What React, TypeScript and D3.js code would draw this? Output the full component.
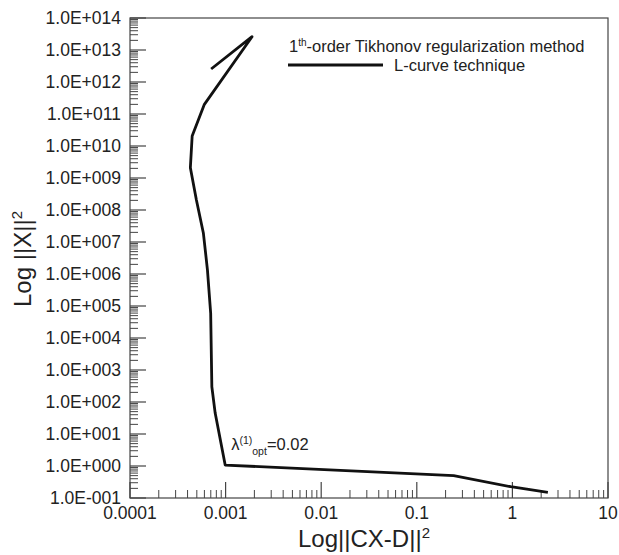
import React from "react";
import * as d3 from "d3";

// L-curve: residual norm ||CX-D||^2 vs. solution norm ||X||^2
const residualNorm = [7.06e-4, 1.89e-3, 6.0e-4, 4.47e-4, 4.28e-4, 4.95e-4, 5.86e-4, 6.46e-4, 6.98e-4, 7.18e-4, 7.78e-4, 9.9e-4, 0.243, 0.96, 2.35];
const solutionNorm = [2.55e12, 2.6e13, 2.0e11, 2.05e10, 2.1e9, 2.05e8, 1.87e7, 1.33e6, 6.0e4, 3.0e2, 45, 1.07, 0.5, 0.225, 0.151];

const xTickValues = [1e-4, 1e-3, 1e-2, 1e-1, 1, 10];
const xTickLabels = ["0.0001", "0.001", "0.01", "0.1", "1", "10"];
const yExponents = [-1, 0, 1, 2, 3, 4, 5, 6, 7, 8, 9, 10, 11, 12, 13, 14];

// optimum regularization point
const optResidual = 9.9e-4;
const optSolution = 1.07;
const optLambda = "0.02";

const W = 619;
const H = 555;
const left = 130;
const right = 608;
const top = 18;
const bottom = 498;

const font = "Liberation Sans, Arial, Helvetica, sans-serif";

function fmtExp(e: number) {
  const sign = e < 0 ? "-" : "+";
  return `1.0E${sign}${String(Math.abs(e)).padStart(3, "0")}`;
}

export default function App() {
  const x = d3.scaleLog().domain([1e-4, 10]).range([left, right]);
  const y = d3.scaleLog().domain([0.1, 1e14]).range([bottom, top]);

  const pts: [number, number][] = residualNorm.map((r, i) => [r, solutionNorm[i]]);
  const line = d3
    .line<[number, number]>()
    .x((d) => x(d[0]))
    .y((d) => y(d[1]));

  const xMinor: number[] = [];
  for (let e = -4; e < 1; e++) for (let k = 2; k <= 9; k++) xMinor.push(k * Math.pow(10, e));
  const yMinor: number[] = [];
  for (let e = -1; e < 14; e++) for (let k = 2; k <= 9; k++) yMinor.push(k * Math.pow(10, e));

  const axisColor = "#444";

  return (
    <svg
      width={W}
      height={H}
      style={{ position: "absolute", left: 0, top: 0, background: "#fff" }}
      fontFamily={font}
    >
      {/* frame */}
      <rect x={left} y={top} width={right - left} height={bottom - top} fill="none" stroke={axisColor} strokeWidth={1.2} />

      {/* y ticks */}
      {yMinor.map((v, i) => (
        <line key={"ym" + i} x1={left} x2={left + 8} y1={y(v)} y2={y(v)} stroke={axisColor} strokeWidth={1} />
      ))}
      {yExponents.map((e) => (
        <g key={"y" + e}>
          <line x1={left} x2={left + 16} y1={y(Math.pow(10, e))} y2={y(Math.pow(10, e))} stroke={axisColor} strokeWidth={1.2} />
          <text x={121} y={y(Math.pow(10, e))} dy="0.36em" textAnchor="end" fontSize={17.5} fill="#222">
            {fmtExp(e)}
          </text>
        </g>
      ))}

      {/* x ticks */}
      {xMinor.map((v, i) => (
        <line key={"xm" + i} x1={x(v)} x2={x(v)} y1={bottom} y2={bottom - 8} stroke={axisColor} strokeWidth={1} />
      ))}
      {xTickValues.map((v, i) => (
        <g key={"x" + i}>
          <line x1={x(v)} x2={x(v)} y1={bottom} y2={bottom - 16} stroke={axisColor} strokeWidth={1.2} />
          <text x={x(v)} y={519} textAnchor="middle" fontSize={17.5} fill="#222">
            {xTickLabels[i]}
          </text>
        </g>
      ))}

      {/* curve */}
      <path d={line(pts) || ""} fill="none" stroke="#111" strokeWidth={2.8} strokeLinejoin="round" />

      {/* optimum label */}
      <text x={x(optResidual) + 6} y={y(optSolution) - 15} fontSize={16.5} fill="#222">
        λ
        <tspan fontSize={10.5} dy={-6}>(1)</tspan>
        <tspan fontSize={10.5} dy={11}>opt</tspan>
        <tspan dy={-5}>={optLambda}</tspan>
      </text>

      {/* legend */}
      <text x={289} y={51.5} fontSize={16.5} fill="#222">
        1<tspan fontSize={10} dy={-6}>th</tspan>
        <tspan dy={6}>-order Tikhonov regularization method</tspan>
      </text>
      <line x1={288} x2={383} y1={65} y2={65} stroke="#111" strokeWidth={2.8} />
      <text x={394} y={70.5} fontSize={16.5} fill="#222">
        L-curve technique
      </text>

      {/* axis titles */}
      <text x={364} y={547} textAnchor="middle" fontSize={24} fill="#222">
        Log||CX-D||<tspan fontSize={15} dy={-9}>2</tspan>
      </text>
      <text transform={`translate(31,259) rotate(-90)`} textAnchor="middle" fontSize={24} fill="#222">
        Log ||X||<tspan fontSize={15} dy={-9}>2</tspan>
      </text>
    </svg>
  );
}
